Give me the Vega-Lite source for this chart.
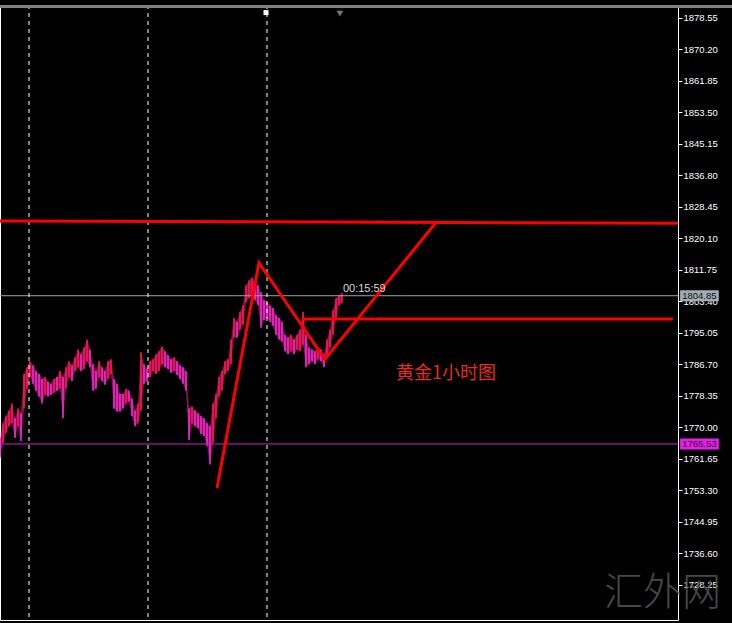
{
  "$schema": "https://vega.github.io/schema/vega-lite/v6.json",
  "width": 678,
  "height": 615,
  "autosize": {"type": "none"},
  "padding": {"left": 0, "top": 5, "right": 54, "bottom": 3},
  "background": "#000000",
  "config": {
    "view": {"stroke": "#ffffff", "strokeWidth": 1, "fill": "#000000"},
    "axis": {"grid": false, "labelOverlap": false, "labelFlush": false, "labelBound": false},
    "axisY": {"labelOverlap": false, "labelColor": "#ffffff", "tickColor": "#ffffff", "tickSize": 4, "domain": false, "labelFont": "Liberation Sans", "labelFontSize": 9.5, "labelPadding": 1, "labelBaseline": "middle", "title": null}
  },
  "datasets": {
    "bars": [
      {"i":0,"h":1767.13,"l":1761.91,"d":"d"},{"i":1,"h":1771.04,"l":1765.82,"d":"u"},{"i":2,"h":1772.87,"l":1768.43,"d":"u"},{"i":3,"h":1774.43,"l":1770.26,"d":"u"},{"i":4,"h":1776.26,"l":1771.04,"d":"u"},{"i":5,"h":1772.35,"l":1767.13,"d":"d"},{"i":6,"h":1774.95,"l":1770.26,"d":"u"},{"i":7,"h":1773.65,"l":1766.34,"d":"d"},{"i":8,"h":1784.09,"l":1774.95,"d":"u"},{"i":9,"h":1785.91,"l":1780.17,"d":"u"},
      {"i":10,"h":1787.48,"l":1783.30,"d":"u"},{"i":11,"h":1786.44,"l":1781.48,"d":"d"},{"i":12,"h":1784.87,"l":1779.65,"d":"d"},{"i":13,"h":1784.09,"l":1778.09,"d":"d"},{"i":14,"h":1782.78,"l":1776.26,"d":"d"},{"i":15,"h":1783.30,"l":1778.61,"d":"u"},{"i":16,"h":1782.00,"l":1778.09,"d":"d"},{"i":17,"h":1781.48,"l":1778.61,"d":"d"},{"i":18,"h":1782.78,"l":1779.13,"d":"u"},{"i":19,"h":1783.30,"l":1779.65,"d":"d"},
      {"i":20,"h":1784.87,"l":1780.17,"d":"u"},{"i":21,"h":1783.30,"l":1772.35,"d":"d"},{"i":22,"h":1785.91,"l":1780.17,"d":"u"},{"i":23,"h":1787.48,"l":1783.30,"d":"u"},{"i":24,"h":1786.44,"l":1782.26,"d":"d"},{"i":25,"h":1788.52,"l":1784.87,"d":"u"},{"i":26,"h":1790.61,"l":1785.91,"d":"u"},{"i":27,"h":1789.31,"l":1784.87,"d":"d"},{"i":28,"h":1791.13,"l":1785.39,"d":"u"},{"i":29,"h":1793.22,"l":1787.48,"d":"u"},
      {"i":30,"h":1790.61,"l":1785.91,"d":"d"},{"i":31,"h":1786.70,"l":1779.65,"d":"d"},{"i":32,"h":1784.87,"l":1780.17,"d":"d"},{"i":33,"h":1787.48,"l":1783.30,"d":"u"},{"i":34,"h":1785.91,"l":1782.26,"d":"d"},{"i":35,"h":1784.87,"l":1781.22,"d":"d"},{"i":36,"h":1787.48,"l":1782.78,"d":"u"},{"i":37,"h":1788.00,"l":1784.09,"d":"u"},{"i":38,"h":1782.78,"l":1774.95,"d":"d"},{"i":39,"h":1781.48,"l":1774.17,"d":"d"},
      {"i":40,"h":1778.87,"l":1774.17,"d":"d"},{"i":41,"h":1778.87,"l":1774.95,"d":"d"},{"i":42,"h":1780.17,"l":1776.26,"d":"u"},{"i":43,"h":1779.65,"l":1776.78,"d":"d"},{"i":44,"h":1777.56,"l":1772.87,"d":"d"},{"i":45,"h":1774.43,"l":1770.26,"d":"d"},{"i":46,"h":1776.26,"l":1771.04,"d":"u"},{"i":47,"h":1789.83,"l":1774.43,"d":"u"},{"i":48,"h":1786.70,"l":1781.48,"d":"d"},{"i":49,"h":1785.39,"l":1782.26,"d":"d"},
      {"i":50,"h":1787.48,"l":1783.30,"d":"u"},{"i":51,"h":1788.00,"l":1784.87,"d":"u"},{"i":52,"h":1789.31,"l":1784.09,"d":"u"},{"i":53,"h":1790.09,"l":1784.87,"d":"u"},{"i":54,"h":1791.39,"l":1786.70,"d":"u"},{"i":55,"h":1790.09,"l":1785.91,"d":"d"},{"i":56,"h":1789.05,"l":1785.39,"d":"d"},{"i":57,"h":1788.00,"l":1784.35,"d":"d"},{"i":58,"h":1788.52,"l":1784.87,"d":"u"},{"i":59,"h":1787.48,"l":1783.83,"d":"d"},
      {"i":60,"h":1786.44,"l":1782.78,"d":"d"},{"i":61,"h":1785.91,"l":1781.48,"d":"d"},{"i":62,"h":1784.87,"l":1779.65,"d":"d"},{"i":63,"h":1774.95,"l":1766.60,"d":"d"},{"i":64,"h":1775.48,"l":1771.04,"d":"u"},{"i":65,"h":1774.43,"l":1770.26,"d":"d"},{"i":66,"h":1773.65,"l":1769.74,"d":"d"},{"i":67,"h":1772.87,"l":1768.17,"d":"d"},{"i":68,"h":1772.35,"l":1767.65,"d":"d"},{"i":69,"h":1771.04,"l":1765.04,"d":"d"},
      {"i":70,"h":1770.26,"l":1760.08,"d":"d"},{"i":71,"h":1776.26,"l":1765.82,"d":"u"},{"i":72,"h":1778.87,"l":1772.35,"d":"u"},{"i":73,"h":1783.30,"l":1778.09,"d":"u"},{"i":74,"h":1784.87,"l":1779.65,"d":"u"},{"i":75,"h":1787.48,"l":1784.09,"d":"u"},{"i":76,"h":1788.00,"l":1784.87,"d":"u"},{"i":77,"h":1793.22,"l":1786.70,"d":"u"},{"i":78,"h":1798.96,"l":1793.74,"d":"u"},{"i":79,"h":1797.92,"l":1793.74,"d":"d"},
      {"i":80,"h":1800.53,"l":1795.83,"d":"u"},{"i":81,"h":1802.35,"l":1797.13,"d":"u"},{"i":82,"h":1807.57,"l":1803.14,"d":"u"},{"i":83,"h":1808.88,"l":1804.18,"d":"u"},{"i":84,"h":1809.66,"l":1804.96,"d":"u"},{"i":85,"h":1808.35,"l":1803.66,"d":"d"},{"i":86,"h":1807.57,"l":1802.35,"d":"d"},{"i":87,"h":1805.75,"l":1796.35,"d":"d"},{"i":88,"h":1803.66,"l":1798.44,"d":"d"},{"i":89,"h":1803.14,"l":1798.96,"d":"d"},
      {"i":90,"h":1802.35,"l":1797.92,"d":"d"},{"i":91,"h":1801.57,"l":1796.87,"d":"d"},{"i":92,"h":1799.74,"l":1794.53,"d":"d"},{"i":93,"h":1798.96,"l":1793.22,"d":"d"},{"i":94,"h":1797.92,"l":1792.70,"d":"d"},{"i":95,"h":1794.53,"l":1790.09,"d":"d"},{"i":96,"h":1793.74,"l":1789.31,"d":"d"},{"i":97,"h":1794.53,"l":1790.09,"d":"u"},{"i":98,"h":1793.22,"l":1789.31,"d":"d"},{"i":99,"h":1794.53,"l":1790.61,"d":"u"},
      {"i":100,"h":1795.83,"l":1790.09,"d":"u"},{"i":101,"h":1800.53,"l":1791.92,"d":"u"},{"i":102,"h":1794.53,"l":1785.91,"d":"d"},{"i":103,"h":1791.13,"l":1786.70,"d":"d"},{"i":104,"h":1790.61,"l":1787.48,"d":"d"},{"i":105,"h":1790.09,"l":1786.70,"d":"d"},{"i":106,"h":1791.13,"l":1788.00,"d":"u"},{"i":107,"h":1790.61,"l":1787.48,"d":"d"},{"i":108,"h":1789.31,"l":1785.91,"d":"d"},{"i":109,"h":1793.22,"l":1788.52,"d":"u"},
      {"i":110,"h":1795.83,"l":1791.13,"d":"u"},{"i":111,"h":1801.05,"l":1794.53,"d":"u"},{"i":112,"h":1804.18,"l":1798.96,"d":"u"},{"i":113,"h":1804.96,"l":1802.35,"d":"u"},{"i":114,"h":1805.48,"l":1802.87,"d":"u"}
    ],
    "levels": [
      {"kind": "bid", "p": 1804.85, "label": "1804.85"},
      {"kind": "alert", "p": 1765.53, "label": "1765.53"}
    ],
    "seps": [{"x": 9.67}, {"x": 49.33}, {"x": 89}],
    "lines": [
      {"g": "trend", "x": 0, "p": 1824.7},
      {"g": "trend", "x": 226, "p": 1824.05},
      {"g": "level", "x": 100.6, "p": 1798.7},
      {"g": "level", "x": 224.3, "p": 1798.7},
      {"g": "zig", "x": 72.33, "p": 1753.82},
      {"g": "zig", "x": 86.33, "p": 1813.57},
      {"g": "zig", "x": 108.33, "p": 1788.0},
      {"g": "zig", "x": 145.67, "p": 1824.6}
    ],
    "texts": [
      {"kind": "timer", "x": 114.3, "p": 1806.6, "t": "00:15:59"},
      {"kind": "title", "x": 132, "p": 1784.0, "t": "黄金1小时图"},
      {"kind": "mark", "x": 201.3, "p": 1725.9, "t": "汇外网"}
    ],
    "handles": [
      {"kind": "sq", "x": 88.67, "p": 1879.95},
      {"kind": "tri", "x": 113.3, "p": 1879.7}
    ],
    "top": [{"x": 0, "x2": 244, "p": 1881.55}]
  },
  "layer": [
    {
      "data": {"name": "bars"},
      "mark": {"type": "area", "color": "#e8208e", "opacity": 0.6, "interpolate": "linear"},
      "encoding": {
        "x": {"field": "i", "type": "quantitative", "scale": {"domain": [0, 226], "nice": false, "zero": false}, "axis": null},
        "y": {"field": "h", "type": "quantitative", "scale": {"domain": [1720.16, 1880.64], "nice": false, "zero": false},
          "axis": {"orient": "right", "title": null, "values": [1878.55,1870.2,1861.85,1853.5,1845.15,1836.8,1828.45,1820.1,1811.75,1803.4,1795.05,1786.7,1778.35,1770,1761.65,1753.3,1744.95,1736.6,1728.25],
            "format": ".2f", "labelOverlap": false, "tickCount": 19, "zindex": 0}},
        "y2": {"field": "l"}
      }
    },
    {
      "data": {"name": "bars"},
      "mark": {"type": "rule", "strokeWidth": 1.6},
      "encoding": {
        "x": {"field": "i", "type": "quantitative", "scale": {"domain": [0, 226], "nice": false, "zero": false}, "axis": null},
        "y": {"field": "h", "type": "quantitative", "scale": {"domain": [1720.16, 1880.64], "nice": false, "zero": false}},
        "y2": {"field": "l"},
        "color": {"field": "d", "type": "nominal", "scale": {"domain": ["u", "d"], "range": ["#ff1840", "#f02ad6"]}, "legend": null}
      }
    },
    {
      "data": {"name": "levels"},
      "transform": [{"filter": "datum.kind == 'alert'"}],
      "mark": {"type": "rule", "color": "#cc22cc", "strokeWidth": 1},
      "encoding": {
        "y": {"field": "p", "type": "quantitative", "scale": {"domain": [1720.16, 1880.64], "nice": false, "zero": false}}
      }
    },
    {
      "data": {"name": "levels"},
      "transform": [{"filter": "datum.kind == 'bid'"}],
      "mark": {"type": "rule", "color": "#9aa3ad", "strokeWidth": 1},
      "encoding": {
        "y": {"field": "p", "type": "quantitative", "scale": {"domain": [1720.16, 1880.64], "nice": false, "zero": false}}
      }
    },
    {
      "data": {"name": "seps"},
      "mark": {"type": "rule", "color": "#ffffff", "strokeWidth": 1, "strokeDash": [4, 4]},
      "encoding": {
        "x": {"field": "x", "type": "quantitative", "scale": {"domain": [0, 226], "nice": false, "zero": false}, "axis": null}
      }
    },
    {
      "data": {"name": "lines"},
      "mark": {"type": "line", "color": "#ff0000", "strokeWidth": 3, "strokeJoin": "miter", "strokeCap": "butt"},
      "encoding": {
        "x": {"field": "x", "type": "quantitative", "scale": {"domain": [0, 226], "nice": false, "zero": false}, "axis": null},
        "y": {"field": "p", "type": "quantitative", "scale": {"domain": [1720.16, 1880.64], "nice": false, "zero": false}},
        "detail": {"field": "g", "type": "nominal"}
      }
    },
    {
      "data": {"name": "texts"},
      "transform": [{"filter": "datum.kind == 'timer'"}],
      "mark": {"type": "text", "align": "left", "baseline": "middle", "color": "#d8d8d8", "font": "Liberation Sans", "fontSize": 11},
      "encoding": {
        "x": {"field": "x", "type": "quantitative", "scale": {"domain": [0, 226], "nice": false, "zero": false}, "axis": null},
        "y": {"field": "p", "type": "quantitative", "scale": {"domain": [1720.16, 1880.64], "nice": false, "zero": false}},
        "text": {"field": "t"}
      }
    },
    {
      "data": {"name": "texts"},
      "transform": [{"filter": "datum.kind == 'title'"}],
      "mark": {"type": "text", "align": "left", "baseline": "middle", "color": "#e62a24", "font": "Noto Sans CJK SC", "fontSize": 18},
      "encoding": {
        "x": {"field": "x", "type": "quantitative", "scale": {"domain": [0, 226], "nice": false, "zero": false}, "axis": null},
        "y": {"field": "p", "type": "quantitative", "scale": {"domain": [1720.16, 1880.64], "nice": false, "zero": false}},
        "text": {"field": "t"}
      }
    },
    {
      "data": {"name": "texts"},
      "transform": [{"filter": "datum.kind == 'mark'"}],
      "mark": {"type": "text", "align": "left", "baseline": "middle", "color": "#555555", "font": "Noto Sans CJK SC", "fontWeight": 300, "fontSize": 39, "opacity": 0.85},
      "encoding": {
        "x": {"field": "x", "type": "quantitative", "scale": {"domain": [0, 226], "nice": false, "zero": false}, "axis": null},
        "y": {"field": "p", "type": "quantitative", "scale": {"domain": [1720.16, 1880.64], "nice": false, "zero": false}},
        "text": {"field": "t"}
      }
    },
    {
      "data": {"name": "levels"},
      "mark": {"type": "bar", "height": 11},
      "encoding": {
        "x": {"datum": 226.7, "type": "quantitative", "scale": {"domain": [0, 226], "nice": false, "zero": false}, "axis": null},
        "x2": {"datum": 239.6},
        "y": {"field": "p", "type": "quantitative", "scale": {"domain": [1720.16, 1880.64], "nice": false, "zero": false}},
        "fill": {"field": "kind", "type": "nominal", "scale": {"domain": ["bid", "alert"], "range": ["#a3abb4", "#ea1cea"]}, "legend": null}
      }
    },
    {
      "data": {"name": "levels"},
      "mark": {"type": "text", "align": "left", "baseline": "middle", "color": "#101010", "font": "Liberation Sans", "fontSize": 9.5},
      "encoding": {
        "x": {"datum": 227.4, "type": "quantitative", "scale": {"domain": [0, 226], "nice": false, "zero": false}, "axis": null},
        "y": {"field": "p", "type": "quantitative", "scale": {"domain": [1720.16, 1880.64], "nice": false, "zero": false}},
        "text": {"field": "label"}
      }
    },
    {
      "data": {"name": "top"},
      "mark": {"type": "rule", "color": "#808080", "strokeWidth": 3},
      "encoding": {
        "x": {"field": "x", "type": "quantitative", "scale": {"domain": [0, 226], "nice": false, "zero": false}, "axis": null},
        "x2": {"field": "x2"},
        "y": {"field": "p", "type": "quantitative", "scale": {"domain": [1720.16, 1880.64], "nice": false, "zero": false}}
      }
    },
    {
      "data": {"name": "handles"},
      "transform": [{"filter": "datum.kind == 'sq'"}],
      "mark": {"type": "square", "filled": true, "color": "#ffffff", "size": 25, "opacity": 1},
      "encoding": {
        "x": {"field": "x", "type": "quantitative", "scale": {"domain": [0, 226], "nice": false, "zero": false}, "axis": null},
        "y": {"field": "p", "type": "quantitative", "scale": {"domain": [1720.16, 1880.64], "nice": false, "zero": false}}
      }
    },
    {
      "data": {"name": "handles"},
      "transform": [{"filter": "datum.kind == 'tri'"}],
      "mark": {"type": "point", "shape": "triangle-down", "filled": true, "color": "#6d7682", "size": 45, "opacity": 1},
      "encoding": {
        "x": {"field": "x", "type": "quantitative", "scale": {"domain": [0, 226], "nice": false, "zero": false}, "axis": null},
        "y": {"field": "p", "type": "quantitative", "scale": {"domain": [1720.16, 1880.64], "nice": false, "zero": false}}
      }
    }
  ]
}
